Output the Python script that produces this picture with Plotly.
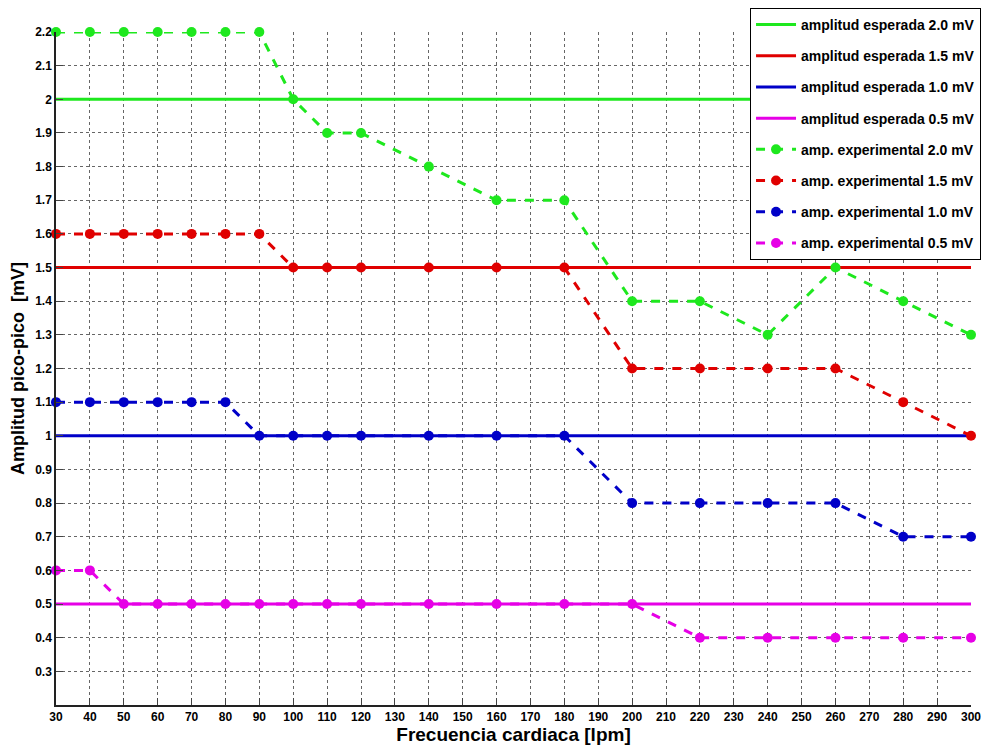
import plotly.graph_objects as go

x = [30, 40, 50, 60, 70, 80, 90, 100, 110, 120, 140, 160, 180, 200, 220, 240, 260, 280, 300]
exp_20 = [2.2, 2.2, 2.2, 2.2, 2.2, 2.2, 2.2, 2.0, 1.9, 1.9, 1.8, 1.7, 1.7, 1.4, 1.4, 1.3, 1.5, 1.4, 1.3]
exp_15 = [1.6, 1.6, 1.6, 1.6, 1.6, 1.6, 1.6, 1.5, 1.5, 1.5, 1.5, 1.5, 1.5, 1.2, 1.2, 1.2, 1.2, 1.1, 1.0]
exp_10 = [1.1, 1.1, 1.1, 1.1, 1.1, 1.1, 1.0, 1.0, 1.0, 1.0, 1.0, 1.0, 1.0, 0.8, 0.8, 0.8, 0.8, 0.7, 0.7]
exp_05 = [0.6, 0.6, 0.5, 0.5, 0.5, 0.5, 0.5, 0.5, 0.5, 0.5, 0.5, 0.5, 0.5, 0.5, 0.4, 0.4, 0.4, 0.4, 0.4]
expected = [2.0, 1.5, 1.0, 0.5]
names_esp = ["amplitud esperada 2.0 mV", "amplitud esperada 1.5 mV",
             "amplitud esperada 1.0 mV", "amplitud esperada 0.5 mV"]
names_exp = ["amp. experimental 2.0 mV", "amp. experimental 1.5 mV",
             "amp. experimental 1.0 mV", "amp. experimental 0.5 mV"]
colors = ["#1ee81e", "#e00000", "#0000c8", "#e600e6"]

xticks = list(range(30, 301, 10))
yticks = [round(0.3 + 0.1 * i, 1) for i in range(20)]
yticktext = ["0.3", "0.4", "0.5", "0.6", "0.7", "0.8", "0.9", "1", "1.1", "1.2",
             "1.3", "1.4", "1.5", "1.6", "1.7", "1.8", "1.9", "2", "2.1", "2.2"]

fig = go.Figure()
gi = 0
for val, name, c in zip(expected, names_esp, colors):
    fig.add_trace(go.Scatter(x=[x[0], x[-1]], y=[val, val], mode="lines", name=name,
                             legendgroup=f"g{gi}",
                             line=dict(color=c, width=3)))
    gi += 1
for ys, name, c in zip([exp_20, exp_15, exp_10, exp_05], names_exp, colors):
    fig.add_trace(go.Scatter(x=x, y=ys, mode="lines+markers", name=name,
                             legendgroup=f"g{gi}",
                             line=dict(color=c, width=3, dash="dash"),
                             marker=dict(color=c, size=10, symbol="circle"),
                             cliponaxis=False))
    gi += 1

tickfont = dict(family="Liberation Sans, Arial", size=12,
                color="black", weight="bold")
fig.update_layout(
    width=981, height=740,
    margin=dict(l=48, r=18, t=24, b=43, autoexpand=False),
    paper_bgcolor="white", plot_bgcolor="white",
    showlegend=True,
    legend=dict(x=0.7585, y=1.0357, xanchor="left", yanchor="top",
                bgcolor="white", bordercolor="black", borderwidth=1,
                font=dict(family="Liberation Sans, Arial", size=14,
                          color="black", weight="bold"),
                itemwidth=40, tracegroupgap=10),
    xaxis=dict(range=[30, 300], tickvals=xticks, ticks="inside", ticklen=7,
               tickcolor="#444", showline=True, linecolor="#222", linewidth=1.5,
               showgrid=True, gridcolor="#666", griddash="dot", gridwidth=1,
               zeroline=False, tickfont=tickfont,
               title=dict(text="Frecuencia cardiaca [lpm]", standoff=2,
                          font=dict(family="Liberation Sans, Arial", size=19,
                                    color="black", weight="bold"))),
    yaxis=dict(range=[0.2, 2.2], tickvals=yticks, ticktext=yticktext, ticks="inside",
               ticklen=7, tickcolor="#444", showline=True, linecolor="#222", linewidth=1.5,
               showgrid=True, gridcolor="#666", griddash="dot", gridwidth=1,
               zeroline=False, tickfont=tickfont,
               title=dict(text="Amplitud pico-pico  [mV]", standoff=6,
                          font=dict(family="Liberation Sans, Arial", size=18,
                                    color="black", weight="bold"))),
)
fig.write_html("out.html")
